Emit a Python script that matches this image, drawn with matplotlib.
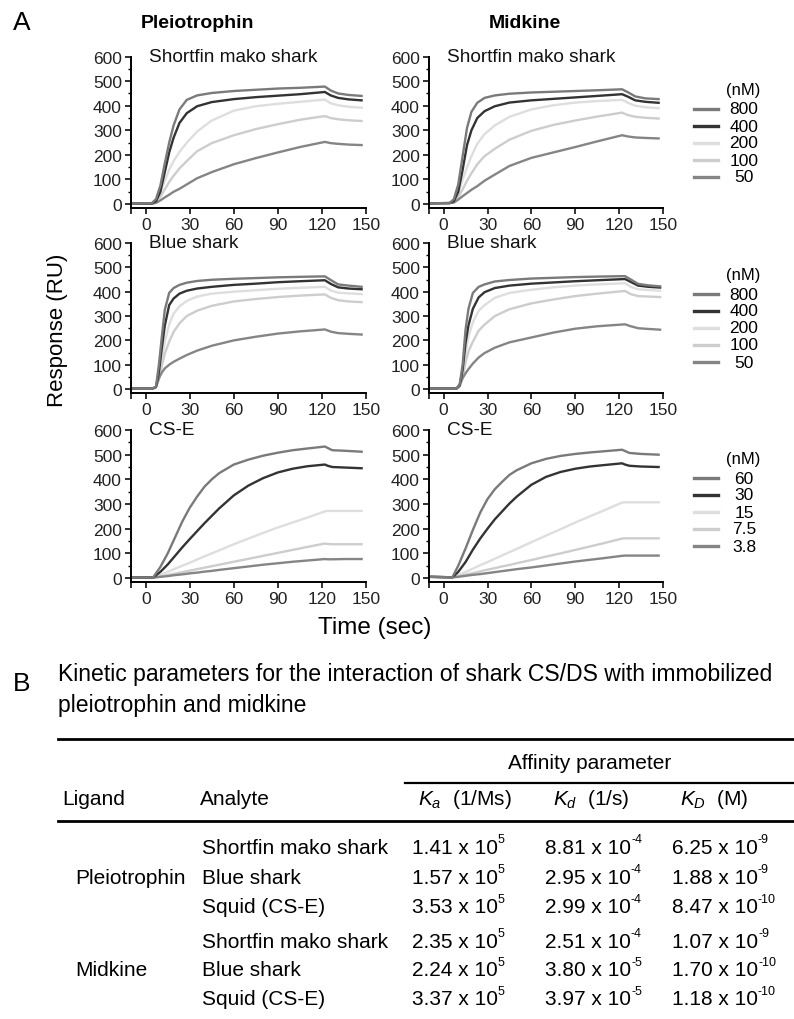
import matplotlib
matplotlib.use("Agg")
import matplotlib.pyplot as plt
from matplotlib.lines import Line2D
from matplotlib.text import Annotation
from matplotlib.ticker import MultipleLocator

plt.rcParams["font.family"] = ["Liberation Sans", "DejaVu Sans"]
plt.rcParams["mathtext.fontset"] = "custom"
plt.rcParams["mathtext.rm"] = "Liberation Sans"
plt.rcParams["mathtext.it"] = "Liberation Sans:italic"

# ---- panel A data ----
conc_shark = ["800", "400", "200", "100", "50"]
conc_cse = ["60", "30", "15", "7.5", "3.8"]
line_colors = ["#7a7a7a", "#333333", "#dedede", "#cdcdcd", "#858585"]

t_pleio_mako = [-10, 4, 7, 10, 13, 16, 19, 23, 28, 35, 45, 60, 75, 90, 105, 122, 126, 131, 138, 147]
pleio_mako = [
    [2, 3, 20, 75, 165, 250, 320, 385, 424, 442, 452, 460, 465, 470, 473, 478, 462, 450, 444, 440],
    [2, 2, 12, 50, 130, 210, 270, 330, 370, 398, 415, 427, 435, 441, 447, 456, 442, 432, 426, 422],
    [2, 2, 15, 50, 95, 140, 175, 212, 250, 295, 340, 380, 398, 408, 416, 425, 410, 402, 396, 392],
    [2, 2, 10, 30, 60, 90, 115, 145, 175, 215, 248, 280, 305, 325, 343, 358, 350, 345, 341, 338],
    [2, 1, 5, 15, 27, 38, 50, 62, 80, 105, 130, 162, 187, 210, 232, 253, 248, 245, 242, 240],
]

t_mid_mako = [-10, 4, 7, 10, 13, 16, 19, 23, 28, 35, 45, 60, 75, 90, 105, 122, 126, 131, 138, 147]
mid_mako = [
    [3, 4, 20, 80, 195, 310, 375, 412, 432, 442, 449, 454, 457, 460, 463, 467, 455, 438, 430, 427],
    [3, 4, 12, 50, 140, 240, 300, 350, 378, 398, 413, 422, 428, 434, 440, 447, 437, 422, 416, 412],
    [3, 4, 10, 40, 100, 150, 195, 245, 285, 320, 355, 385, 402, 413, 419, 424, 412, 400, 394, 390],
    [3, 4, 8, 28, 60, 95, 125, 162, 195, 225, 262, 298, 322, 340, 356, 372, 362, 355, 351, 348],
    [3, 4, 6, 18, 32, 45, 58, 73, 95, 120, 155, 188, 210, 232, 255, 280, 275, 271, 269, 267],
]

t_pleio_blue = [-10, 5, 7, 9, 11, 13, 16, 19, 23, 28, 35, 45, 60, 75, 90, 105, 122, 126, 131, 138, 147]
pleio_blue = [
    [3, 3, 10, 100, 215, 325, 395, 415, 428, 437, 444, 449, 453, 456, 459, 461, 463, 448, 430, 425, 420],
    [3, 3, 8, 70, 170, 260, 345, 372, 392, 404, 413, 420, 428, 433, 439, 443, 447, 432, 418, 413, 410],
    [3, 3, 8, 50, 120, 195, 265, 310, 340, 362, 380, 392, 400, 406, 412, 416, 420, 405, 396, 393, 390],
    [3, 3, 8, 40, 95, 145, 195, 235, 270, 300, 322, 342, 360, 370, 378, 384, 389, 375, 365, 360, 357],
    [3, 3, 10, 45, 68, 85, 100, 112, 125, 140, 158, 178, 200, 215, 228, 237, 245, 236, 230, 227, 224],
]

t_mid_blue = [-10, 5, 9, 11, 13, 15, 17, 20, 24, 28, 35, 45, 60, 75, 90, 105, 124, 128, 133, 140, 148]
mid_blue = [
    [3, 3, 3, 20, 100, 245, 330, 395, 420, 430, 442, 448, 454, 457, 460, 462, 464, 450, 432, 426, 422],
    [3, 3, 3, 15, 80, 190, 262, 330, 377, 398, 415, 425, 433, 438, 443, 447, 452, 440, 425, 420, 417],
    [3, 3, 3, 12, 60, 150, 215, 275, 322, 345, 375, 395, 408, 418, 425, 430, 435, 420, 410, 407, 404],
    [3, 3, 3, 10, 45, 110, 155, 195, 240, 265, 300, 328, 352, 368, 382, 392, 403, 390, 382, 380, 378],
    [3, 3, 3, 20, 45, 65, 82, 105, 130, 148, 170, 192, 212, 232, 248, 258, 266, 258, 250, 247, 244],
]

t_pleio_cse = [-10, 5, 10, 15, 20, 25, 30, 35, 40, 45, 50, 60, 70, 80, 90, 100, 110, 122, 124, 127, 135, 147]
pleio_cse = [
    [3, 2, 45, 100, 165, 230, 285, 330, 370, 400, 425, 460, 480, 496, 508, 518, 525, 533, 527, 518, 516, 512],
    [3, 2, 25, 55, 90, 125, 158, 190, 222, 252, 282, 335, 375, 405, 428, 443, 453, 460, 455, 450, 448, 445],
    [3, 2, 12, 25, 38, 50, 62, 75, 88, 100, 112, 137, 160, 183, 205, 225, 245, 270, 272, 272, 272, 272],
    [3, 2, 6, 12, 18, 24, 30, 36, 42, 48, 54, 66, 78, 90, 102, 114, 126, 140, 138, 137, 137, 137],
    [3, 2, 5, 8, 12, 15, 19, 22, 26, 29, 33, 40, 47, 54, 60, 66, 71, 77, 76, 76, 77, 77],
]

t_mid_cse = [-10, 6, 10, 15, 20, 25, 30, 35, 40, 45, 50, 60, 70, 80, 90, 100, 110, 122, 124, 127, 135, 147]
mid_cse = [
    [5, 3, 50, 120, 195, 265, 320, 360, 390, 418, 437, 465, 483, 495, 503, 509, 514, 520, 515, 507, 503, 500],
    [5, 3, 25, 65, 115, 160, 200, 238, 270, 302, 330, 378, 410, 430, 443, 452, 458, 465, 460, 455, 452, 450],
    [5, 3, 12, 25, 38, 52, 65, 78, 92, 105, 118, 145, 172, 198, 225, 250, 275, 306, 307, 307, 307, 307],
    [5, 3, 7, 14, 20, 27, 34, 40, 47, 53, 60, 73, 87, 100, 114, 128, 142, 160, 161, 161, 161, 161],
    [5, 3, 5, 9, 13, 16, 20, 24, 28, 32, 36, 43, 51, 59, 67, 74, 81, 90, 91, 91, 91, 91],
]

panel_names = ["Shortfin mako shark", "Blue shark", "CS-E"]

# ---- panel B data ----
ligands = ["Pleiotrophin", "Midkine"]
analytes = ["Shortfin mako shark", "Blue shark", "Squid (CS-E)"]
ka_vals = [("1.41", "5"), ("1.57", "5"), ("3.53", "5"), ("2.35", "5"), ("2.24", "5"), ("3.37", "5")]
kd_vals = [("8.81", "-4"), ("2.95", "-4"), ("2.99", "-4"), ("2.51", "-4"), ("3.80", "-5"), ("3.97", "-5")]
kD_vals = [("6.25", "-9"), ("1.88", "-9"), ("8.47", "-10"), ("1.07", "-9"), ("1.70", "-10"), ("1.18", "-10")]

W, H = 794, 1020
fig = plt.figure(figsize=(W / 100, H / 100), dpi=100)


def fx(px):
    return px / W


def fy(py):
    return 1 - py / H


def add_axes(left_px, right_px, top_px, bottom_px):
    ax = fig.add_axes([fx(left_px), fy(bottom_px), (right_px - left_px) / W, (bottom_px - top_px) / H])
    ax.set_xlim(-10, 150)
    ax.set_ylim(-14, 600)
    for s in ["top", "right"]:
        ax.spines[s].set_visible(False)
    for s in ["left", "bottom"]:
        ax.spines[s].set_linewidth(1.4)
    ax.set_xticks([-10, 0, 30, 60, 90, 120, 150])
    ax.set_xticklabels(["", "0", "30", "60", "90", "120", "150"])
    ax.set_yticks([0, 100, 200, 300, 400, 500, 600])
    ax.yaxis.set_minor_locator(MultipleLocator(50))
    ax.tick_params(which="major", length=4.5, width=1.3, labelsize=12.5, pad=2, colors="#222222")
    ax.tick_params(which="minor", length=2.5, width=1.0)
    return ax


cols = [(131, 366), (429, 663)]
rows = [(57.6, 208.5), (244, 393.5), (431, 582.5)]
panel_data = [
    [(t_pleio_mako, pleio_mako), (t_mid_mako, mid_mako)],
    [(t_pleio_blue, pleio_blue), (t_mid_blue, mid_blue)],
    [(t_pleio_cse, pleio_cse), (t_mid_cse, mid_cse)],
]

for r, (top, bot) in enumerate(rows):
    for c, (lft, rgt) in enumerate(cols):
        ax = add_axes(lft, rgt, top, bot)
        t, curves = panel_data[r][c]
        for k in [2, 3, 4, 1, 0]:
            ax.plot(t, curves[k], color=line_colors[k], lw=1.7, solid_joinstyle="round")
        ax.text(2, 600, panel_names[r], fontsize=13.7, va="center", ha="left", color="#111111")

# legends (drawn by hand to match the look)
legend_tops = [91, 276, 460]
for r, ytop in enumerate(legend_tops):
    labels = conc_cse if r == 2 else conc_shark
    fig.text(fx(743), fy(ytop), "(nM)", fontsize=12, ha="center", va="center")
    for k, lab in enumerate(labels):
        yy = ytop + 19 + k * 17
        fig.add_artist(Line2D([fx(694), fx(718)], [fy(yy), fy(yy)], color=line_colors[k], lw=2.4,
                              transform=fig.transFigure))
        fig.text(fx(744), fy(yy), lab, fontsize=12.5, ha="center", va="center")

fig.text(fx(22), fy(23), "A", fontsize=19, ha="center", va="center")
fig.text(fx(197), fy(24), "Pleiotrophin", fontsize=14, fontweight="bold", ha="center", va="center")
fig.text(fx(525), fy(24), "Midkine", fontsize=14, fontweight="bold", ha="center", va="center")
fig.text(fx(57), fy(330), "Response (RU)", fontsize=16, rotation=90, ha="center", va="center")
fig.text(fx(375), fy(628), "Time (sec)", fontsize=17.5, ha="center", va="center")

# ---- panel B: table ----
fs = 15

fig.text(fx(22), fy(684), "B", fontsize=19, ha="center", va="center")
fig.text(fx(58), fy(675), "Kinetic parameters for the interaction of shark CS/DS with immobilized",
         fontsize=16.6, ha="left", va="center")
fig.text(fx(58), fy(706), "pleiotrophin and midkine", fontsize=16.6, ha="left", va="center")


def rule(x0, x1, y, lw):
    fig.add_artist(Line2D([fx(x0), fx(x1)], [fy(y), fy(y)], color="black", lw=lw, transform=fig.transFigure))


def sci(x, y, mant, expo):
    base = fig.text(fx(x), fy(y), mant + " x 10", fontsize=fs, ha="left", va="center")
    fig.add_artist(Annotation(expo, xy=(1.0, 0.58), xycoords=base, fontsize=fs * 0.6,
                              ha="left", va="bottom"))


rule(58, 794, 740, 2.0)
rule(405, 794, 784, 1.6)
rule(58, 794, 822, 2.0)

fig.text(fx(590), fy(764), "Affinity parameter", fontsize=fs, ha="center", va="center")
fig.text(fx(62), fy(800), "Ligand", fontsize=fs, ha="left", va="center")
fig.text(fx(200), fy(800), "Analyte", fontsize=fs, ha="left", va="center")
fig.text(fx(418), fy(800), r"$K_a$  (1/Ms)", fontsize=fs, ha="left", va="center")
fig.text(fx(553), fy(800), r"$K_d$  (1/s)", fontsize=fs, ha="left", va="center")
fig.text(fx(680), fy(800), r"$K_D$  (M)", fontsize=fs, ha="left", va="center")

row_y = [848, 878, 908, 942, 971, 1000]
fig.text(fx(75), fy(878), ligands[0], fontsize=fs, ha="left", va="center")
fig.text(fx(75), fy(971), ligands[1], fontsize=fs, ha="left", va="center")
for i, yy in enumerate(row_y):
    fig.text(fx(202), fy(yy), analytes[i % 3], fontsize=fs, ha="left", va="center")
    for xx, (m, e) in zip([412, 545, 672], [ka_vals[i], kd_vals[i], kD_vals[i]]):
        sci(xx, yy, m, e)

fig.savefig("out.png", dpi=100)
